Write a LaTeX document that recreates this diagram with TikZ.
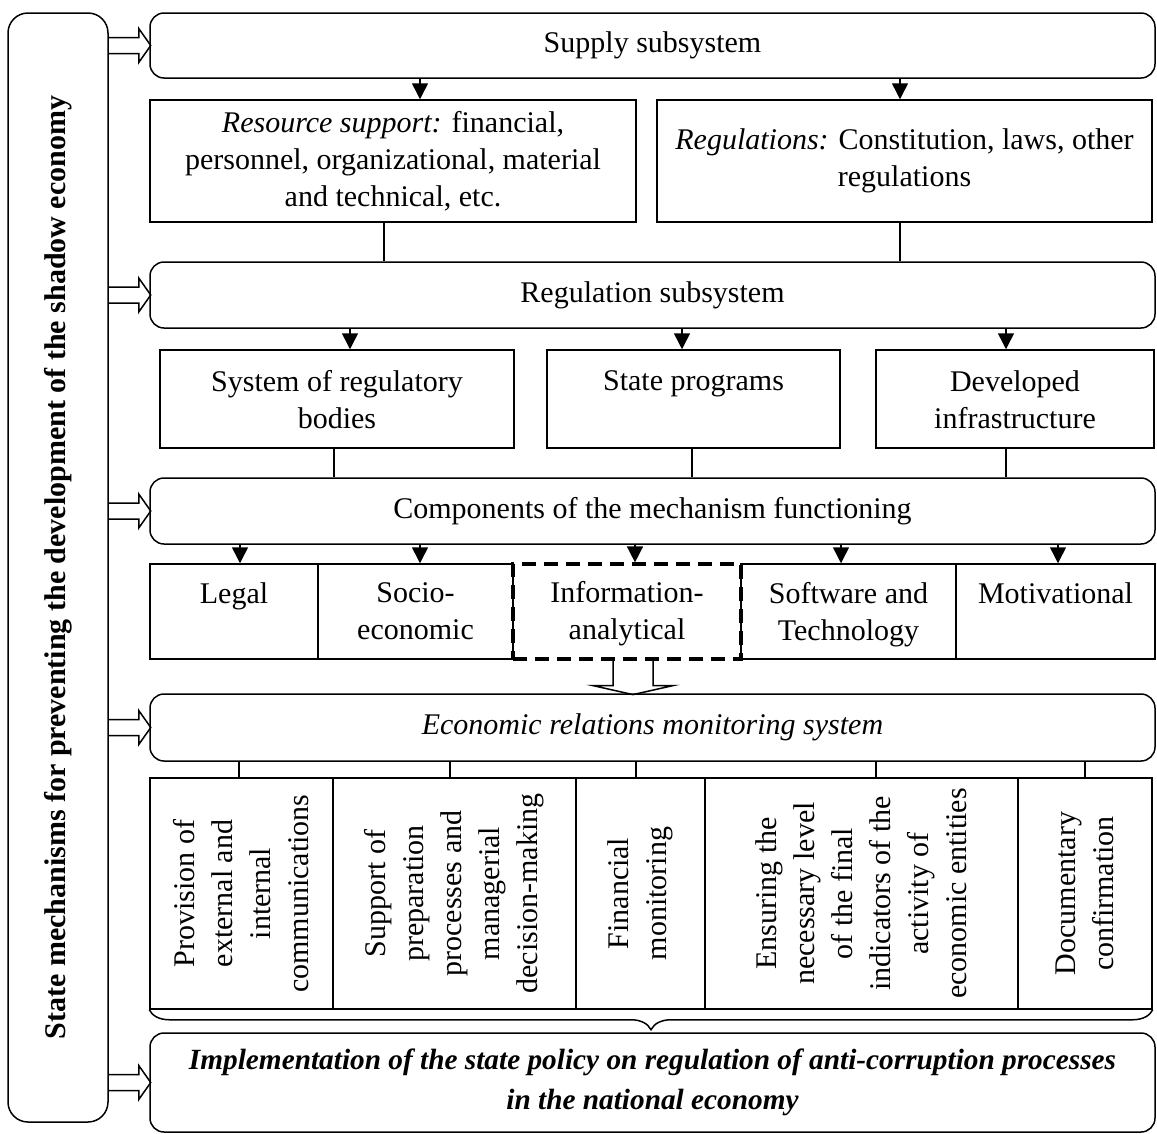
\documentclass[tikz,border=0pt]{standalone}
\usepackage{fontspec}
\setmainfont{Liberation Serif}
\usetikzlibrary{arrows.meta,decorations.pathreplacing}

\begin{document}
\begin{tikzpicture}[x=1pt,y=-1pt,
  every node/.style={font=\fontsize{30}{37}\selectfont,inner sep=0pt},
  flatbox/.style={draw,line width=1.5pt},
  roundbox/.style={flatbox,rounded corners=14pt},
  dashedbox/.style={draw,line width=3.2pt,dash pattern=on 14pt off 8pt},
  downarrow/.style={line width=1.5pt,-{Triangle[width=16pt,length=16pt]}},
  plainline/.style={line width=1.5pt},
  blockarrow/.style={line width=1.5pt,line join=miter}]
  \path[use as bounding box,fill=white] (0,0) rectangle (1157,1133);

  % left column
  \node[roundbox,rounded corners=20pt,minimum width=100pt,minimum height=1109pt] (bar) at (58,567.5) {};
  \node[rotate=90,font=\fontsize{30}{37}\selectfont\bfseries] (bartxt) at (bar.center) {State mechanisms for preventing the development of the shadow economy};

  % subsystems
  \node[roundbox,minimum width=1005pt,minimum height=65pt] (supply) at (652.5,45.5) {Supply subsystem};
  \node[flatbox,minimum width=486pt,minimum height=122pt,align=center] (res) at (393,161) {\textit{Resource support:} financial,\\personnel, organizational, material\\and technical, etc.};
  \node[flatbox,minimum width=495pt,minimum height=122pt,align=center] (regs) at (904.5,161) {\textit{Regulations:} Constitution, laws, other\\regulations};
  \node[roundbox,minimum width=1005pt,minimum height=66pt] (regsub) at (652.5,295) {Regulation subsystem};
  \foreach \nm/\xa/\xb/\txt in {
    bodies/160/514/{System of regulatory\\bodies},
    progs/547/840/{State programs},
    infra/876/1154/{Developed\\infrastructure}}
  {
    \node[flatbox,minimum width={(\xb-\xa)*1pt},minimum height=98pt] (\nm) at ({(\xa+\xb)/2},399) {};
    \node[anchor=north,align=center] (\nm-txt) at ([yshift=-21pt]\nm.north) {\txt};
  }
  \node[roundbox,minimum width=1005pt,minimum height=66pt] (comp) at (652.5,511) {Components of the mechanism functioning};
  \foreach \nm/\xa/\xb/\txt in {
    legal/150/318/{Legal},
    socio/318/513/{Socio-\\economic},
    soft/741/956/{Software and\\Technology},
    motiv/956/1155/{Motivational}}
  {
    \node[flatbox,minimum width={(\xb-\xa)*1pt},minimum height=95pt] (\nm) at ({(\xa+\xb)/2},611.5) {};
    \node[anchor=north,align=center] (\nm-txt) at ([yshift=-19pt]\nm.north) {\txt};
  }
  \node[dashedbox,minimum width=228pt,minimum height=95pt] (info) at (627,611.5) {};
  \node[anchor=north,align=center] (info-txt) at ([yshift=-19pt]info.north) {Information-\\analytical};

  % monitoring
  \node[roundbox,minimum width=1005pt,minimum height=67pt] (mon) at (652.5,727.5) {\textit{Economic relations monitoring system}};
  \foreach \nm/\xa/\xb/\txt in {
    comm/150/333/{Provision of\\external and\\internal\\communications},
    decis/333/576/{Support of\\preparation\\processes and\\managerial\\decision-making},
    finmon/576/705/{Financial\\monitoring},
    level/705/1018/{Ensuring the\\necessary level\\of the final\\indicators of the\\activity of\\economic entities},
    docs/1018/1152/{Documentary\\confirmation}}
  {
    \node[flatbox,minimum width={(\xb-\xa)*1pt},minimum height=231pt] (\nm) at ({(\xa+\xb)/2},893.5) {};
    \node[rotate=90,align=center,font=\fontsize{30}{38}\selectfont] (\nm-txt) at (\nm.center) {\txt};
  }
  \node[roundbox,minimum width=1005pt,minimum height=99pt,align=center,font=\fontsize{29.3}{40}\selectfont\bfseries\itshape] (impl) at (652.5,1082.5) {Implementation of the state policy on regulation of anti-corruption processes\\in the national economy};

  % connectors
  \draw[downarrow] (supply.south -| 420,0) -- (res.north -| 420,0);
  \draw[downarrow] (supply.south -| 900,0) -- (regs.north -| 900,0);
  \draw[plainline] (res.south -| 384,0) -- (regsub.north -| 384,0);
  \draw[plainline] (regs.south -| 900,0) -- (regsub.north -| 900,0);
  \foreach \x/\nm in {350/bodies,682/progs,1006/infra}
    \draw[downarrow] (regsub.south -| \x,0) -- (\nm.north -| \x,0);
  \foreach \x/\nm in {334/bodies,692/progs,1006/infra}
    \draw[plainline] (\nm.south -| \x,0) -- (comp.north -| \x,0);
  \foreach \x/\nm in {240/legal,420/socio,635/info,841/soft,1058/motiv}
    \draw[downarrow] (comp.south -| \x,0) -- (\nm.north -| \x,0);
  \foreach \x/\nm in {239/comm,450/decis,636/finmon,876/level,1085/docs}
    \draw[plainline] (mon.south -| \x,0) -- (\nm.north -| \x,0);
  \foreach \nm in {supply,regsub,comp,mon,impl}
    \draw[blockarrow] (bar.east |- \nm.west) +(0,-8) -- +(30,-8) -- +(30,-17) -- +(42,0) -- +(30,17) -- +(30,8) -- +(0,8);
  \draw[blockarrow] ([xshift=6pt]info.south) +(-20,0) -- +(-20,25) -- +(-40,25) -- +(0,34) -- +(40,25) -- +(20,25) -- +(20,0);
  \draw[plainline,decorate,decoration={brace,amplitude=20pt}] (docs.south east) -- (comm.south west);
\end{tikzpicture}
\end{document}
